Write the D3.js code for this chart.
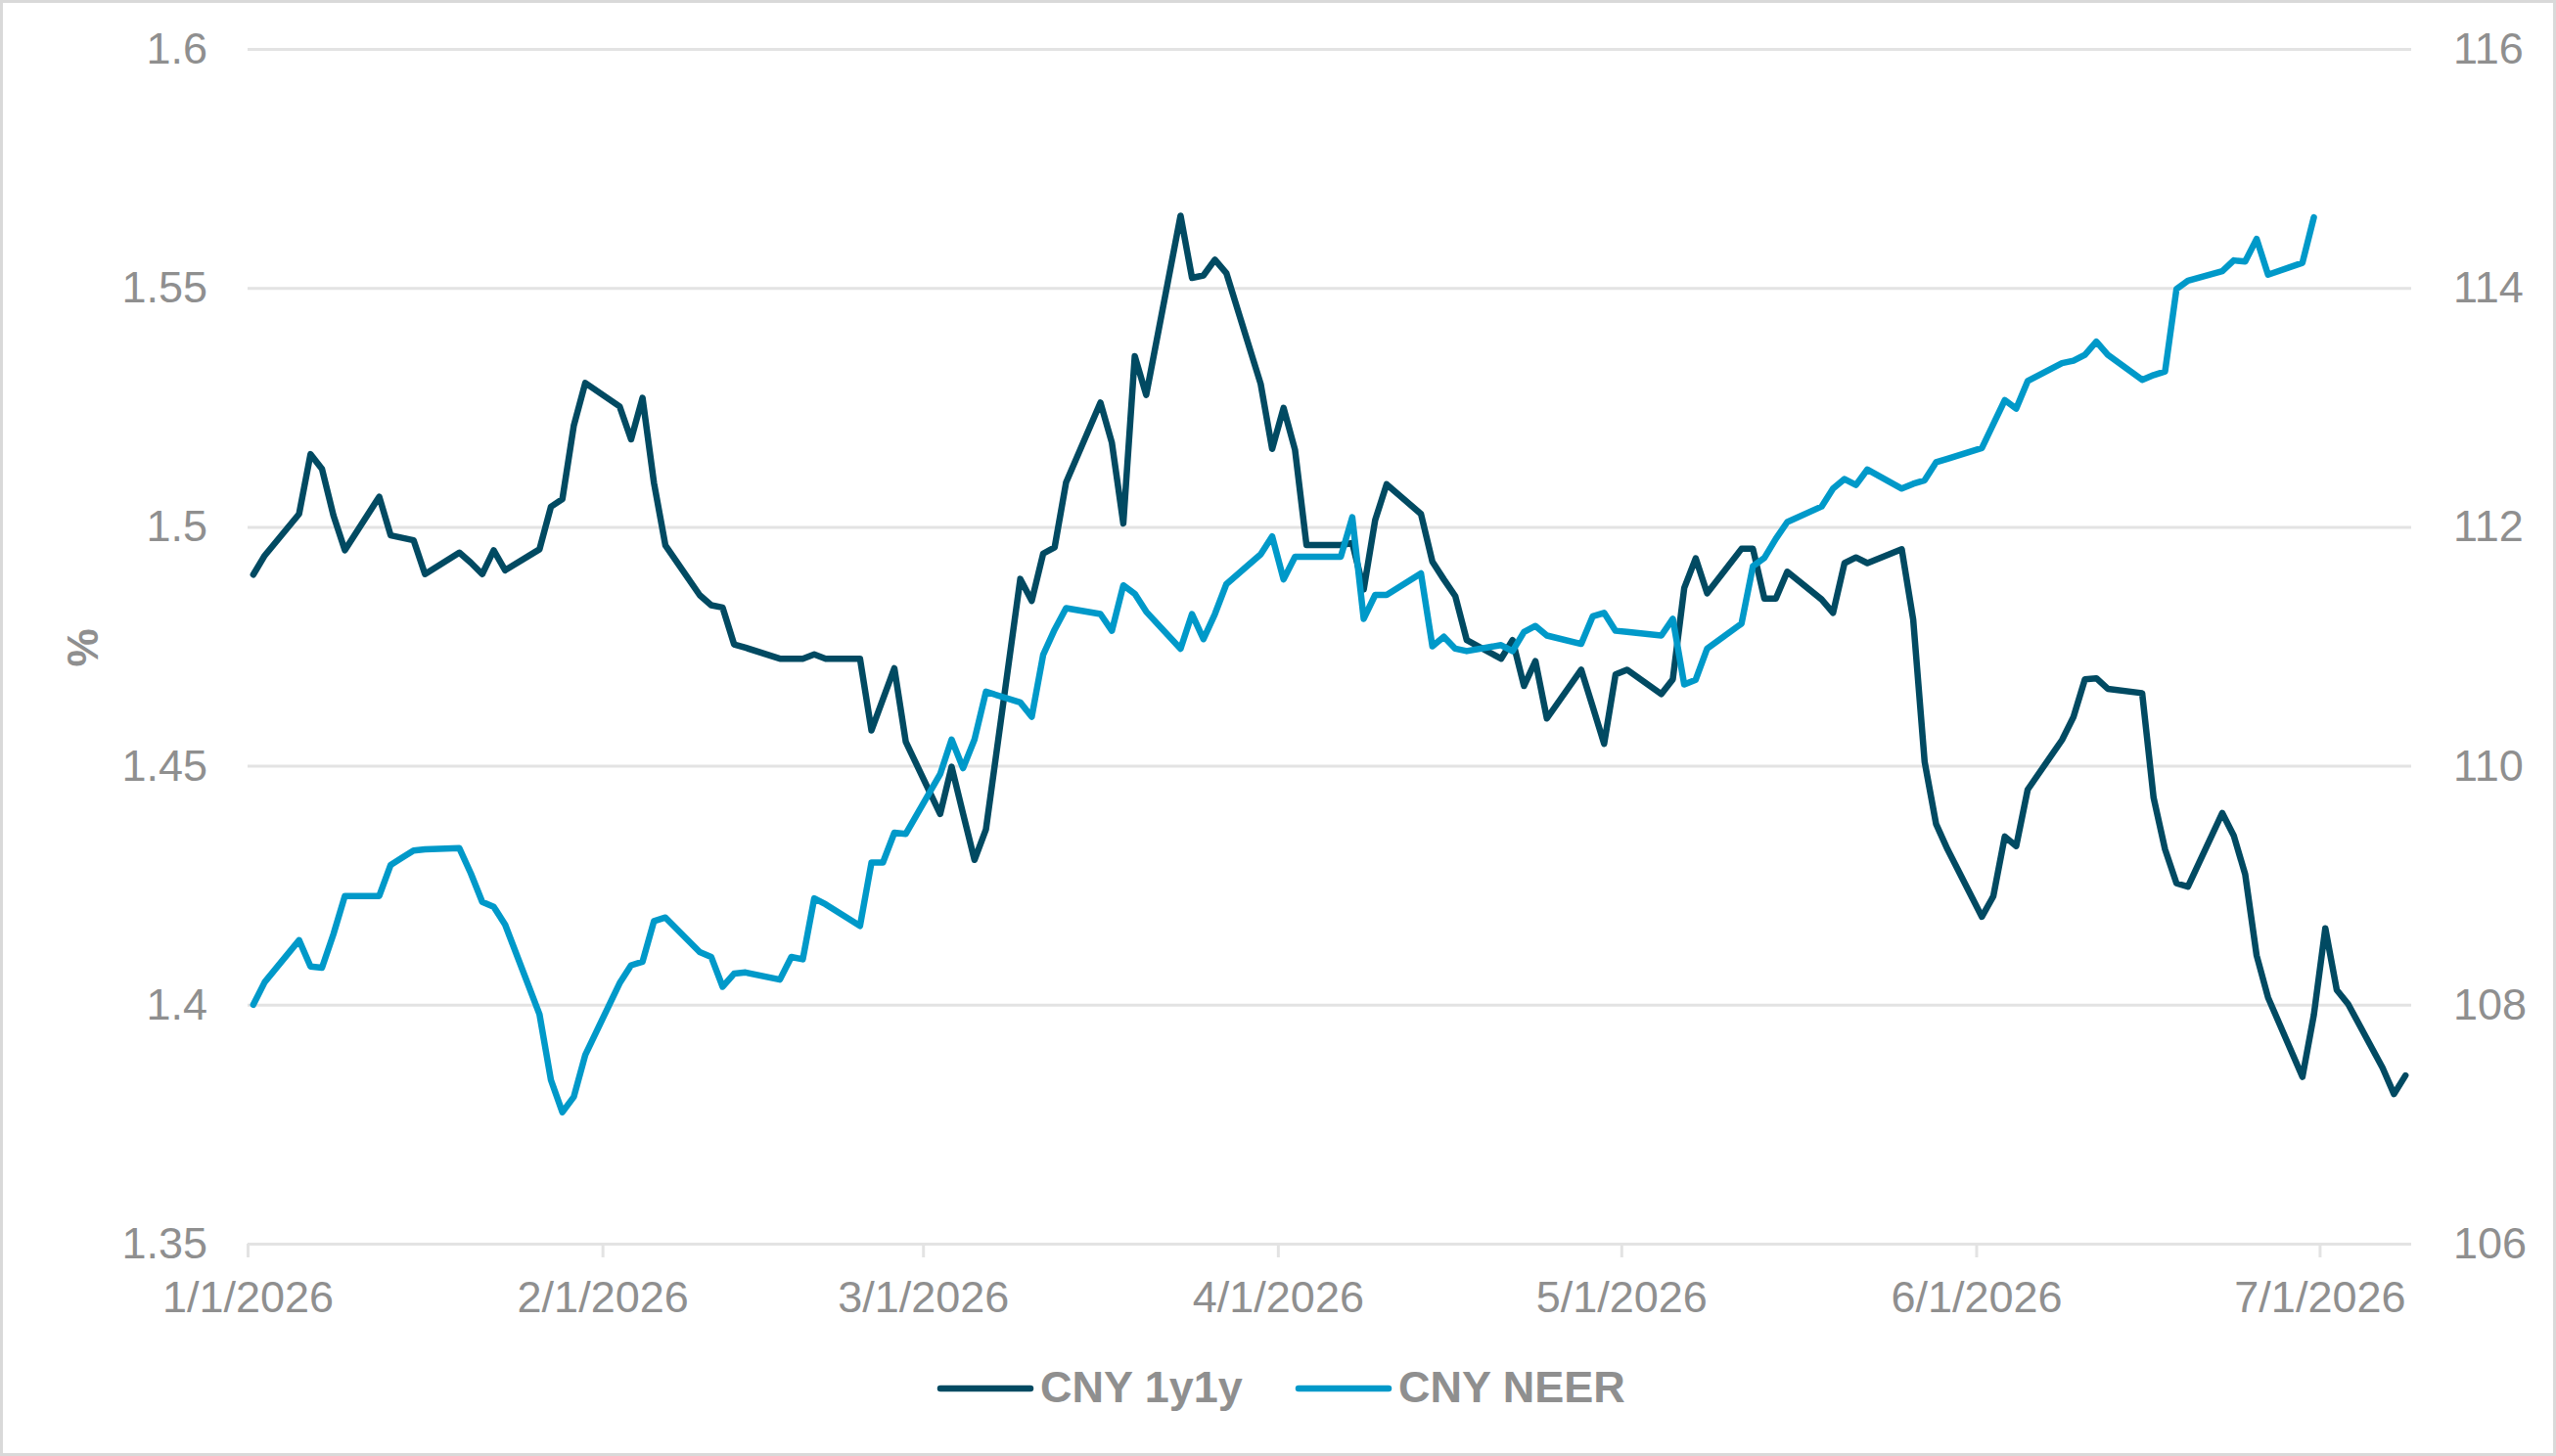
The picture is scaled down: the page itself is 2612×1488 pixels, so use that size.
<!DOCTYPE html>
<html>
<head>
<meta charset="utf-8">
<script src="https://cdn.jsdelivr.net/npm/d3@7"></script>
<style>
  body { margin: 0; background: #fff; }
  text { font-family: "Liberation Sans", Arial, sans-serif; }
</style>
</head>
<body>
<div id="chart-area"></div>
<script>
/*
*    CNY 1y1y vs CNY NEER
*/

// CNY 1y1y (%, left axis)
var rateDates = ["2026-01-01","2026-01-02","2026-01-05","2026-01-06","2026-01-07","2026-01-08","2026-01-09",
  "2026-01-12","2026-01-13","2026-01-14","2026-01-15","2026-01-16","2026-01-19","2026-01-20","2026-01-21",
  "2026-01-22","2026-01-23","2026-01-26","2026-01-27","2026-01-28","2026-01-29","2026-01-30","2026-02-02",
  "2026-02-03","2026-02-04","2026-02-05","2026-02-06","2026-02-09","2026-02-10","2026-02-11","2026-02-12",
  "2026-02-13","2026-02-16","2026-02-17","2026-02-18","2026-02-19","2026-02-20","2026-02-23","2026-02-24",
  "2026-02-25","2026-02-26","2026-02-27","2026-03-02","2026-03-03","2026-03-04","2026-03-05","2026-03-06",
  "2026-03-09","2026-03-10","2026-03-11","2026-03-12","2026-03-13","2026-03-16","2026-03-17","2026-03-18",
  "2026-03-19","2026-03-20","2026-03-23","2026-03-24","2026-03-25","2026-03-26","2026-03-27","2026-03-30",
  "2026-03-31","2026-04-01","2026-04-02","2026-04-03","2026-04-06","2026-04-07","2026-04-08","2026-04-09",
  "2026-04-10","2026-04-13","2026-04-14","2026-04-15","2026-04-16","2026-04-17","2026-04-20","2026-04-21",
  "2026-04-22","2026-04-23","2026-04-24","2026-04-27","2026-04-28","2026-04-29","2026-04-30","2026-05-01",
  "2026-05-04","2026-05-05","2026-05-06","2026-05-07","2026-05-08","2026-05-11","2026-05-12","2026-05-13",
  "2026-05-14","2026-05-15","2026-05-18","2026-05-19","2026-05-20","2026-05-21","2026-05-22","2026-05-25",
  "2026-05-26","2026-05-27","2026-05-28","2026-05-29","2026-06-01","2026-06-02","2026-06-03","2026-06-04",
  "2026-06-05","2026-06-08","2026-06-09","2026-06-10","2026-06-11","2026-06-12","2026-06-15","2026-06-16",
  "2026-06-17","2026-06-18","2026-06-19","2026-06-22","2026-06-23","2026-06-24","2026-06-25","2026-06-26",
  "2026-06-29","2026-06-30","2026-07-01","2026-07-02","2026-07-03","2026-07-06","2026-07-07","2026-07-08"];
var rateValues = [1.490,1.494,1.5027,1.5152,1.5121,1.5024,1.4951,
  1.5063,1.4982,1.4977,1.4972,1.4901,1.4946,1.4925,1.4901,
  1.4951,1.4909,1.4953,1.5042,1.5058,1.5212,1.5301,1.5252,
  1.5183,1.5270,1.5092,1.4961,1.4857,1.4836,1.4831,1.4754,
  1.4747,1.4724,1.4724,1.4724,1.4733,1.4724,1.4724,1.4574,
  1.4639,1.4704,1.4550,1.4399,1.4498,1.4400,1.4303,1.4367,
  1.4891,1.4845,1.4944,1.4957,1.5093,1.5260,1.5176,1.5007,
  1.5357,1.5276,1.5651,1.5521,1.5526,1.5559,1.5531,1.5299,
  1.5163,1.5249,1.5161,1.4962,1.4962,1.4966,1.4869,1.5014,
  1.5089,1.5027,1.4927,1.4890,1.4855,1.4763,1.4724,1.4763,
  1.4667,1.4719,1.4599,1.4701,1.4624,1.4546,1.4691,1.4701,
  1.4650,1.4681,1.4872,1.4934,1.4861,1.4954,1.4954,1.4850,
  1.4850,1.4906,1.4848,1.4820,1.4924,1.4936,1.4924,1.4953,
  1.4806,1.4508,1.4378,1.4325,1.4184,1.4227,1.4352,1.4332,
  1.4450,1.4554,1.4602,1.4681,1.4683,1.4661,1.4652,1.4433,
  1.4325,1.4254,1.4247,1.4401,1.4354,1.4273,1.4103,1.4015,
  1.3849,1.3979,1.4160,1.4031,1.4001,1.3868,1.3813,1.3852];

// CNY NEER (index, right axis)
var neerDates = rateDates.slice(0, rateDates.indexOf("2026-06-30") + 1);
var neerValues = [108.00,108.19,108.54,108.32,108.31,108.59,108.91,
  108.91,109.17,109.23,109.29,109.30,109.31,109.10,108.86,
  108.82,108.67,107.92,107.37,107.10,107.23,107.58,108.18,
  108.33,108.36,108.70,108.73,108.44,108.40,108.15,108.26,
  108.27,108.21,108.40,108.38,108.89,108.84,108.66,109.19,
  109.19,109.44,109.43,109.93,110.22,109.98,110.22,110.62,
  110.53,110.41,110.93,111.14,111.32,111.27,111.13,111.51,
  111.44,111.29,110.98,111.27,111.06,111.27,111.52,111.77,
  111.92,111.56,111.75,111.75,111.75,112.08,111.23,111.43,
  111.43,111.61,111.00,111.08,110.98,110.96,111.01,110.96,
  111.12,111.17,111.09,111.02,111.25,111.28,111.13,111.12,
  111.09,111.23,110.68,110.72,110.98,111.19,111.67,111.74,
  111.90,112.04,112.17,112.32,112.40,112.35,112.48,112.32,
  112.36,112.39,112.54,112.57,112.66,112.86,113.06,112.99,
  113.22,113.37,113.39,113.44,113.55,113.44,113.23,113.27,
  113.30,113.99,114.06,114.14,114.23,114.22,114.41,114.11,
  114.21,114.59];

var leftTicks = [1.35, 1.4, 1.45, 1.5, 1.55, 1.6];
var rightTicks = [106, 108, 110, 112, 114, 116];
var monthTicks = ["2026-01-01","2026-02-01","2026-03-01","2026-04-01","2026-05-01","2026-06-01","2026-07-01"];
var seriesNames = ["CNY 1y1y", "CNY NEER"];

var W = 2612, H = 1488;
var plotLeft = 253, plotRight = 2464, plotTop = 50, plotBottom = 1271;
var grey = "#8f8f8f", gridColor = "#e3e3e3";
var darkBlue = "#014a62", lightBlue = "#0099c9";

var parse = d3.utcParse("%Y-%m-%d");

var svg = d3.select("#chart-area").append("svg")
    .attr("width", W)
    .attr("height", H);

svg.append("rect")
    .attr("x", 1.5).attr("y", 1.5)
    .attr("width", W - 3).attr("height", H - 3)
    .attr("fill", "#fff")
    .attr("stroke", "#d9d9d9")
    .attr("stroke-width", 3);

var x = d3.scaleUtc()
    .domain([parse("2026-01-01"), parse("2026-07-09")])
    .range([plotLeft, plotRight]);
var yL = d3.scaleLinear().domain([1.35, 1.6]).range([plotBottom, plotTop]);
var yR = d3.scaleLinear().domain([106, 116]).range([plotBottom, plotTop]);

// gridlines + left labels
var gAxisL = svg.append("g")
    .attr("transform", "translate(" + plotLeft + ",0)")
    .call(d3.axisLeft(yL).tickValues(leftTicks).tickSize(-(plotRight - plotLeft)).tickPadding(41)
        .tickFormat(function(d) { return String(d); }));
gAxisL.select(".domain").remove();
gAxisL.selectAll("line").attr("stroke", gridColor).attr("stroke-width", 3);
gAxisL.selectAll("text").attr("fill", grey).attr("font-size", 45);

// right labels
var gAxisR = svg.append("g")
    .attr("transform", "translate(" + plotRight + ",0)")
    .call(d3.axisRight(yR).tickValues(rightTicks).tickSize(0).tickPadding(43));
gAxisR.select(".domain").remove();
gAxisR.selectAll("text").attr("fill", grey).attr("font-size", 45);

// x axis
var gAxisX = svg.append("g")
    .attr("transform", "translate(0," + plotBottom + ")")
    .call(d3.axisBottom(x).tickValues(monthTicks.map(parse)).tickSize(14).tickPadding(24)
        .tickFormat(d3.utcFormat("%-m/%-d/%Y")));
gAxisX.select(".domain").remove();
gAxisX.selectAll("line").attr("stroke", gridColor).attr("stroke-width", 3);
gAxisX.selectAll("text").attr("fill", grey).attr("font-size", 45);

// axis title
svg.append("text")
    .attr("transform", "translate(85,662) rotate(-90)")
    .attr("text-anchor", "middle")
    .attr("dy", "0.35em")
    .attr("font-size", 44)
    .attr("font-weight", "bold")
    .attr("fill", grey)
    .text("%");

// points sit in the middle of their day
function xPos(s) { return x(d3.utcHour.offset(parse(s), 12)); }

var rateLine = d3.line()
    .x(function(d, i) { return xPos(rateDates[i]); })
    .y(function(d) { return yL(d); });
var neerLine = d3.line()
    .x(function(d, i) { return xPos(neerDates[i]); })
    .y(function(d) { return yR(d); });

svg.append("path")
    .attr("d", rateLine(rateValues))
    .attr("fill", "none")
    .attr("stroke", darkBlue)
    .attr("stroke-width", 6.5)
    .attr("stroke-linejoin", "round")
    .attr("stroke-linecap", "round");

svg.append("path")
    .attr("d", neerLine(neerValues))
    .attr("fill", "none")
    .attr("stroke", lightBlue)
    .attr("stroke-width", 6.5)
    .attr("stroke-linejoin", "round")
    .attr("stroke-linecap", "round");

// legend
var legendX = [961, 1327];
var legendColors = [darkBlue, lightBlue];
seriesNames.forEach(function(name, i) {
    svg.append("line")
        .attr("x1", legendX[i]).attr("x2", legendX[i] + 92)
        .attr("y1", 1419).attr("y2", 1419)
        .attr("stroke", legendColors[i])
        .attr("stroke-width", 6.5)
        .attr("stroke-linecap", "round");
    svg.append("text")
        .attr("x", legendX[i] + 102)
        .attr("y", 1433)
        .attr("font-size", 45)
        .attr("font-weight", "bold")
        .attr("fill", grey)
        .text(name);
});
</script>
</body>
</html>
